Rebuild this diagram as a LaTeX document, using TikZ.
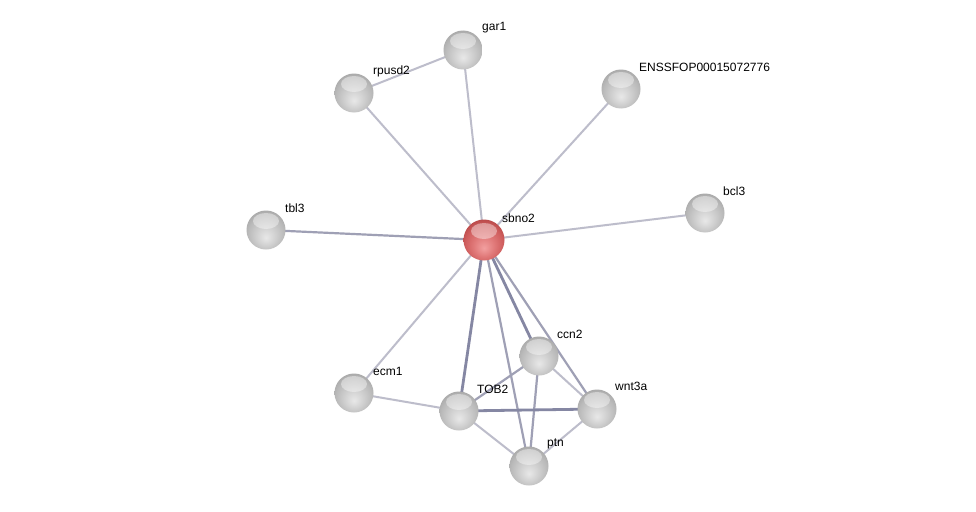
\documentclass[tikz,border=0pt]{standalone}
\usepackage{fontspec}
\setmainfont{Liberation Sans}
\definecolor{elite}{HTML}{BDBDCB}
\definecolor{emid}{HTML}{9FA0B5}
\definecolor{edark}{HTML}{8587A3}
\definecolor{r0}{HTML}{F2A0A0}
\definecolor{r1}{HTML}{E07878}
\definecolor{r2}{HTML}{CF5E5E}
\definecolor{r3}{HTML}{B84848}
\definecolor{r4}{HTML}{963030}
\definecolor{r5}{HTML}{702020}
\pgfdeclareradialshading{gball}{\pgfpoint{0bp}{-10bp}}{color(0bp)=(gray!18); color(13bp)=(gray!38); color(23bp)=(gray!54); color(30bp)=(gray!68); color(33bp)=(gray!85); color(35bp)=(gray!105!black); color(50bp)=(gray!105!black)}
\pgfdeclareradialshading{rball}{\pgfpoint{0bp}{-10bp}}{color(0bp)=(r0); color(13bp)=(r1); color(23bp)=(r2); color(30bp)=(r3); color(33bp)=(r4); color(35bp)=(r5); color(50bp)=(r5)}
\begin{document}
\begin{tikzpicture}[x=1pt,y=-1pt,
  hl/.style={path picture={\fill[white,opacity=0.4] ([yshift=9pt]path picture bounding box.center) ellipse (13pt and 8pt);}},
  prot/.style={circle,minimum size=39pt,inner sep=0pt,shading=gball,draw=none,hl},
  qprot/.style={circle,minimum size=41pt,inner sep=0pt,shading=rball,draw=none,hl},
  lbl/.style={anchor=west,font=\fontsize{12}{14}\selectfont,inner sep=0pt},
  lite/.style={draw=elite,line width=2pt},
  mid/.style={draw=emid,line width=2.2pt},
  dark/.style={draw=edark,line width=2.8pt},
  ]
\useasboundingbox (0,0) rectangle (976,511);
\fill[white] (0,0) rectangle (976,511);
\coordinate (c-sbno2) at (484,240);
\coordinate (c-gar1) at (463,50);
\coordinate (c-rpusd2) at (354,93);
\coordinate (c-enss) at (621,89);
\coordinate (c-tbl3) at (266,230);
\coordinate (c-bcl3) at (705,213);
\coordinate (c-ecm1) at (354,393);
\coordinate (c-ccn2) at (539,356);
\coordinate (c-tob2) at (459,411);
\coordinate (c-wnt3a) at (597,409);
\coordinate (c-ptn) at (529,466);
% edges
\draw[lite] (c-rpusd2) -- (c-gar1);
\draw[lite] (c-rpusd2) -- (c-sbno2);
\draw[lite] (c-gar1) -- (c-sbno2);
\draw[lite] (c-enss) -- (c-sbno2);
\draw[mid] (c-tbl3) -- (c-sbno2);
\draw[lite] (c-bcl3) -- (c-sbno2);
\draw[lite] (c-ecm1) -- (c-sbno2);
\draw[lite] (c-ecm1) -- (c-tob2);
\draw[dark] (c-sbno2) -- (c-tob2);
\draw[mid] (c-sbno2) -- (c-ptn);
\draw[dark] (c-sbno2) -- (c-ccn2);
\draw[mid] (c-sbno2) -- (c-wnt3a);
\draw[mid] (c-ccn2) -- (c-tob2);
\draw[mid] (c-ccn2) -- (c-ptn);
\draw[lite] (c-ccn2) -- (c-wnt3a);
\draw[dark] (c-tob2) -- (c-wnt3a);
\draw[lite] (c-tob2) -- (c-ptn);
\draw[lite] (c-wnt3a) -- (c-ptn);
% nodes
\node[qprot] (sbno2) at (c-sbno2) {};
\node[prot] (gar1) at (c-gar1) {};
\node[prot] (rpusd2) at (c-rpusd2) {};
\node[prot] (enss) at (c-enss) {};
\node[prot] (tbl3) at (c-tbl3) {};
\node[prot] (bcl3) at (c-bcl3) {};
\node[prot] (ecm1) at (c-ecm1) {};
\node[prot] (ccn2) at (c-ccn2) {};
\node[prot] (tob2) at (c-tob2) {};
\node[prot] (wnt3a) at (c-wnt3a) {};
\node[prot] (ptn) at (c-ptn) {};
% labels
\node[lbl] (l-sbno2) at (502,218) {sbno2};
\node[lbl] (l-gar1) at (482,28) {gar1};
\node[lbl] (l-rpusd2) at (373,71) {rpusd2};
\node[lbl] (l-enss) at (639,67) {ENSSFOP00015072776};
\node[lbl] (l-tbl3) at (285,208) {tbl3};
\node[lbl] (l-bcl3) at (723,191) {bcl3};
\node[lbl] (l-ecm1) at (373,371) {ecm1};
\node[lbl] (l-ccn2) at (557,334) {ccn2};
\node[lbl] (l-tob2) at (477,389) {TOB2};
\node[lbl] (l-wnt3a) at (615,386) {wnt3a};
\node[lbl] (l-ptn) at (547,444) {ptn};
\end{tikzpicture}
\end{document}
